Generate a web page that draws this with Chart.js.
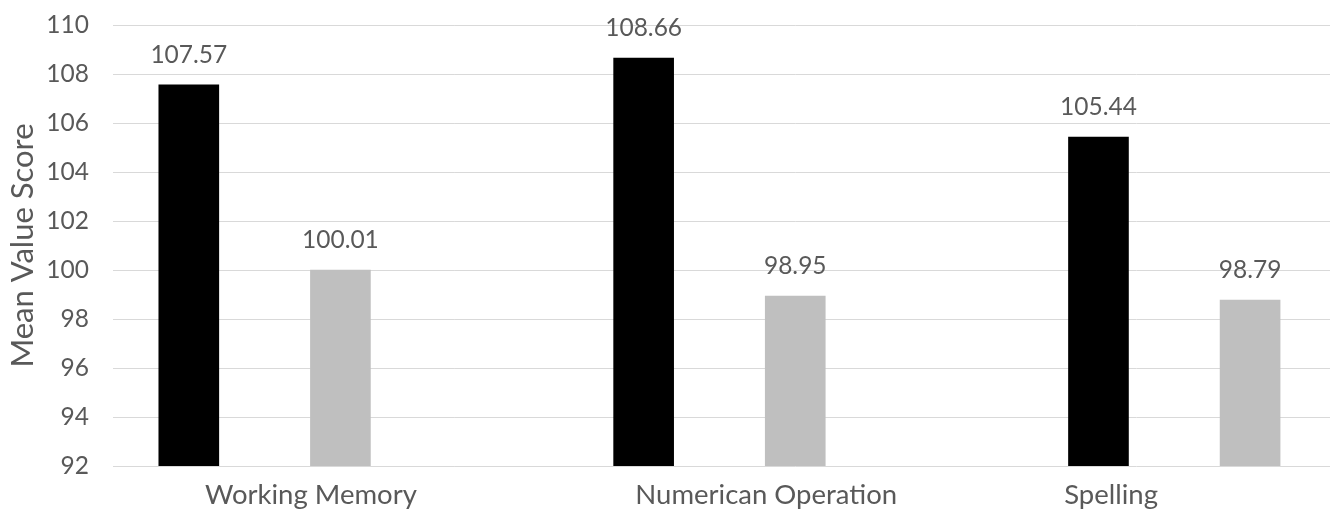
<!DOCTYPE html>
<html><head><meta charset="utf-8">
<script src="https://cdn.jsdelivr.net/npm/chart.js@4/dist/chart.umd.min.js"></script>
<style>
html,body{margin:0;padding:0;background:#fff;overflow:hidden;width:1330px;height:514px}
#wrap{width:1480px;height:514px;position:relative}
canvas{display:block}
</style></head>
<body><div id="wrap"><canvas id="c" width="1480" height="514"></canvas></div>
<script>
// ---- data ----
const categories = ['Working Memory', 'Numerican Operation', 'Spelling'];
const seriesA = [107.57, 108.66, 105.44];   // black bars
const seriesB = [100.01, 98.95, 98.79];     // grey bars
const seriesEmpty = [null, null, null];     // empty third series slot (as in source)
const yMin = 92, yMax = 110, yStep = 2;

// ---- layout tweaks (label placement, not data) ----
const labelShift = [-29.5, -29, -139];

const FONT = 'Lato';
const TXT = '#595959';

const labelPlugin = {
  id: 'valueAndCatLabels',
  afterDatasetsDraw(chart) {
    const ctx = chart.ctx;
    ctx.save();
    ctx.fillStyle = TXT;
    ctx.textAlign = 'center';
    ctx.textBaseline = 'alphabetic';
    ctx.font = '24.5px ' + FONT;
    chart.data.datasets.forEach((ds, di) => {
      const meta = chart.getDatasetMeta(di);
      meta.data.forEach((el, i) => {
        const v = ds.data[i];
        if (v == null) return;
        ctx.fillText(v.toFixed(2), el.x, el.y - 22);
      });
    });
    const xs = chart.scales.x;
    ctx.font = '27.5px ' + FONT;
    categories.forEach((c, i) => {
      ctx.fillText(c, xs.getPixelForTick(i) + labelShift[i], xs.top + 38);
    });
    ctx.restore();
  }
};

new Chart(document.getElementById('c'), {
  type: 'bar',
  data: {
    labels: categories,
    datasets: [
      { label: 'A', data: seriesA, backgroundColor: '#000000', barPercentage: 0.4, categoryPercentage: 1.0 },
      { label: 'B', data: seriesB, backgroundColor: '#bfbfbf', barPercentage: 0.4, categoryPercentage: 1.0 },
      { label: '', data: seriesEmpty, backgroundColor: 'rgba(0,0,0,0)', barPercentage: 0.4, categoryPercentage: 1.0 }
    ]
  },
  options: {
    responsive: false,
    animation: false,
    layout: { padding: { top: 25, right: 2.5, left: 0, bottom: 0 } },
    plugins: { legend: { display: false }, tooltip: { enabled: false } },
    scales: {
      x: {
        grid: { display: false },
        border: { display: false },
        ticks: { display: false },
        afterFit: s => { s.height = 48; }
      },
      y: {
        min: yMin, max: yMax,
        grid: { color: '#d9d9d9', lineWidth: 1, drawTicks: false },
        border: { display: false },
        ticks: { stepSize: yStep, padding: 24, color: TXT, font: { family: FONT, size: 24.5 } },
        title: { display: true, text: 'Mean Value Score', color: TXT, font: { family: FONT, size: 31 }, padding: { top: 4, bottom: 0 } },
        afterFit: s => { s.width = 113; s.paddingTop = 0; s.paddingBottom = 0; }
      }
    }
  },
  plugins: [labelPlugin]
});
</script>
</body></html>
